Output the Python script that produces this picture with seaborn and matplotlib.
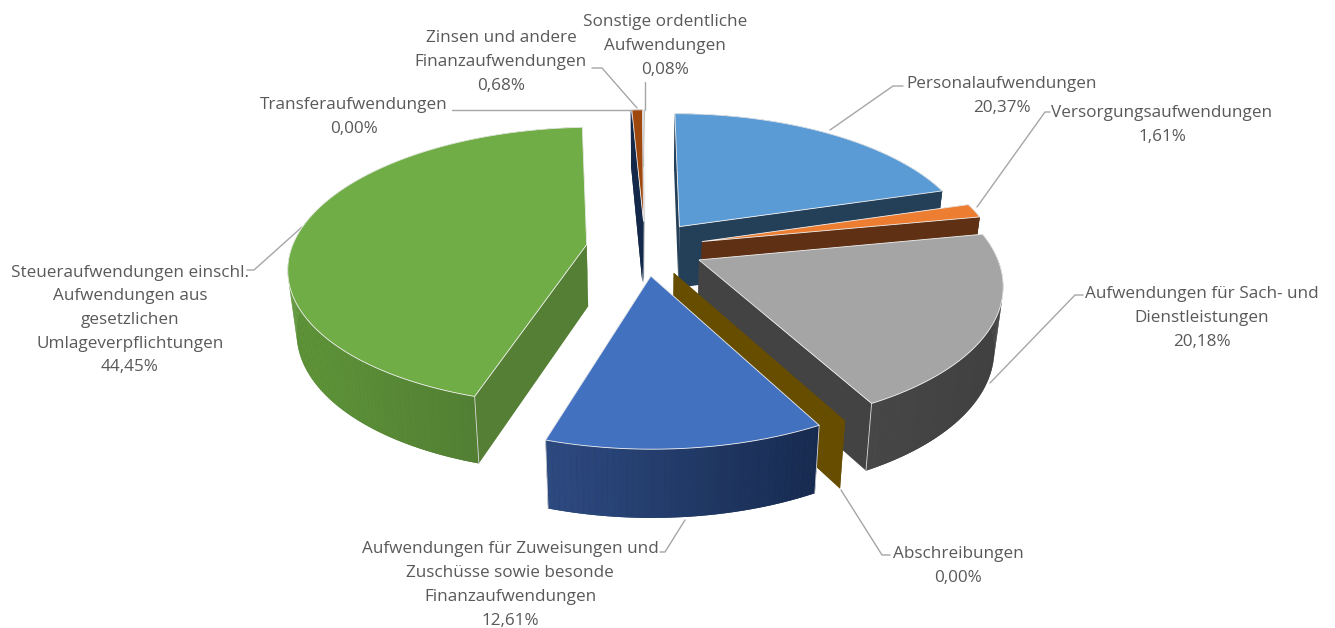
import numpy as np
import seaborn as sns
import matplotlib.pyplot as plt

# Daten
categories = [
    "Personalaufwendungen",
    "Versorgungsaufwendungen",
    "Aufwendungen für Sach- und\nDienstleistungen",
    "Abschreibungen",
    "Aufwendungen für Zuweisungen und\nZuschüsse sowie besonde\nFinanzaufwendungen",
    "Steueraufwendungen einschl.\nAufwendungen aus\ngesetzlichen\nUmlageverpflichtungen",
    "Transferaufwendungen",
    "Zinsen und andere\nFinanzaufwendungen",
    "Sonstige ordentliche\nAufwendungen",
]
shares = [20.37, 1.61, 20.18, 0.00, 12.61, 44.45, 0.00, 0.68, 0.08]

top_colors = ["#5b9bd5", "#ed7d31", "#a5a5a5", "#ffc000", "#4271c0", "#70ad47", "#264478", "#9e480e", "#636363"]
wall_colors = ["#243f58", "#5f3014", "#434343", "#664d00", "#1f3864", "#567f36", "#14284a", "#14284a", "#9a9a9a"]
curve_left = ["#243f58", "#5f3014", "#474747", "#664d00", "#2d4a80", "#5f9539", "#14284a", "#14284a", "#9a9a9a"]
curve_right = ["#243f58", "#5f3014", "#404040", "#664d00", "#172a4f", "#4a7230", "#14284a", "#14284a", "#9a9a9a"]

label_pos = [(1002, 96), (1162, 125), (1202, 318), (958, 566), (510, 585), (130, 320), (354, 117), (501, 62), (665, 46)]
leader_x = [[830, 893, 903], [977, 1045, 1050], [990, 1075, 1083], [841, 882, 890], [685, 665, 660],
            [302, 254, 247], [452, 632], [592, 602, 637], [645, 645]]
leader_y = [[130, 86, 86], [207, 112, 112], [383, 295, 295], [490, 555, 555], [520, 552, 552],
            [227, 270, 270], [110, 110], [68, 68, 108], [82, 110]]

# Perspektive der Torte
CX, CY = 645, 248
RX, RY, TILT = 295, 136.6, 0.155
EXPLODE = 0.2
DEPTH = 62
draw_order = [7, 8, 6, 0, 1, 2, 3, 4, 5]
# sichtbare senkrechte Kanten: Stueck -> Enden
corner_edges = {2: (-1,), 4: (0, -1), 5: (0,)}

sns.set_theme(style="white")
plt.rcParams["font.family"] = ["Open Sans", "DejaVu Sans"]

fig, ax = plt.subplots(figsize=(13.35, 6.28), dpi=100)
fig.subplots_adjust(0, 0, 1, 1)
ax.set_xlim(0, 1335)
ax.set_ylim(628, 0)
ax.axis("off")


def project(px, py):
    d = 1 - TILT * py
    return CX + RX * px / d, CY + RY * py / d, d


def lower(x, y, d):
    return CX + (x - CX) * 0.975, y + DEPTH / np.sqrt(d)


deg = 360 / sum(shares)
start = np.cumsum([0] + shares[:-1]) * deg

for i in draw_order:
    a0 = np.radians(start[i])
    a1 = np.radians(start[i] + shares[i] * deg)
    mid = (a0 + a1) / 2
    ox, oy = EXPLODE * np.sin(mid), -EXPLODE * np.cos(mid)
    t = np.linspace(a0, a1, max(int(np.degrees(a1 - a0)), 1) + 1)
    x, y, d = project(ox + np.sin(t), oy - np.cos(t))
    xb, yb = lower(x, y, d)
    ax_, ay_, ad_ = project(ox, oy)
    bx_, by_ = lower(ax_, ay_, ad_)

    # Seitenwaende
    for j in (0, -1):
        ax.fill([ax_, x[j], xb[j], bx_], [ay_, y[j], yb[j], by_], color=wall_colors[i], lw=0, zorder=1)
    shades = sns.blend_palette([curve_left[i], curve_right[i]], 64)
    ax.fill(np.r_[x, xb[::-1]], np.r_[y, yb[::-1]], color=shades[32], lw=0, zorder=1)
    for k in range(len(t) - 1):
        mx = (x[k] + x[k + 1]) / 2
        f = (mx - x.min()) / max(x.max() - x.min(), 1)
        ax.fill([x[k], x[k + 1], xb[k + 1], xb[k]], [y[k], y[k + 1], yb[k + 1], yb[k]],
                color=shades[int(f * 63)], lw=0, zorder=1)
    # Kanten
    for j in corner_edges.get(i, ()):
        ax.plot([x[j], xb[j]], [y[j], yb[j]], color="#d9d9d9", lw=0.6, zorder=1)
    # Deckflaeche
    if shares[i] > 0:
        ax.fill(np.r_[ax_, x], np.r_[ay_, y], fc=top_colors[i], ec="#f2f2f2", lw=0.6, zorder=1)

for lx, ly in zip(leader_x, leader_y):
    ax.plot(lx, ly, color="#a6a6a6", lw=1.0, zorder=0)

for name, val, (tx, ty) in zip(categories, shares, label_pos):
    txt = name + "\n" + f"{val:.2f}".replace(".", ",") + "%"
    ax.text(tx, ty, txt, ha="center", va="center", fontsize=12.3, color="#595959", linespacing=1.64, zorder=3)

sns.despine(left=True, bottom=True)
fig.savefig("out.png", dpi=100)
